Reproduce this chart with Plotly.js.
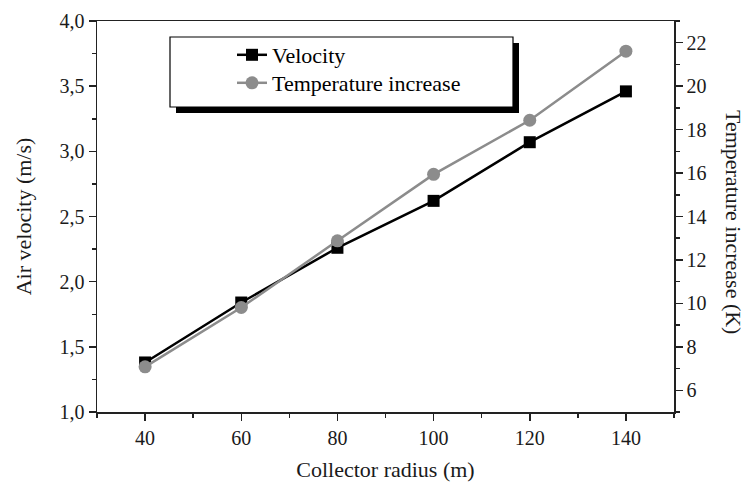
<!DOCTYPE html>
<html>
<head>
<meta charset="utf-8">
<script src="https://cdn.plot.ly/plotly-3.0.1.min.js"></script>
<style>
  html, body { margin: 0; padding: 0; background: #fff; }
  #chart { width: 746px; height: 487px; }
</style>
</head>
<body>
<div id="chart"></div>
<script>
// ---- data ----
const collectorRadius = [40, 60, 80, 100, 120, 140];
const airVelocity = [1.38, 1.84, 2.26, 2.62, 3.07, 3.46];
const temperatureIncrease = [7.08, 9.81, 12.88, 15.94, 18.43, 21.61];
const seriesNames = ['Velocity', 'Temperature increase'];
const axisTitles = { x: 'Collector radius (m)', y: 'Air velocity (m/s)', y2: 'Temperature increase (K)' };

const FONT = 'Liberation Serif, Times New Roman, serif';
const AX = '#222';
const TXT = '#1a1a1a';

const traces = [
  {
    x: collectorRadius, y: airVelocity, name: seriesNames[0],
    type: 'scatter', mode: 'lines+markers', yaxis: 'y', legend: 'legend',
    line: { color: '#000', width: 2.5 },
    marker: { symbol: 'square', size: 12, color: '#000' }
  },
  {
    x: collectorRadius, y: temperatureIncrease, name: seriesNames[1],
    type: 'scatter', mode: 'lines+markers', yaxis: 'y2', legend: 'legend2',
    line: { color: '#8c8c8c', width: 2.5 },
    marker: { symbol: 'circle', size: 13, color: '#8c8c8c' }
  }
];

// plot-area pixel geometry converted to paper coords
const L = 97, R = 674, T = 21, B = 412;
const px = v => (v - L) / (R - L);
const py = v => 1 - (v - T) / (B - T);

const legendStyle = {
  xanchor: 'left', yanchor: 'top',
  bgcolor: 'rgba(0,0,0,0)', borderwidth: 0,
  font: { family: FONT, size: 22, color: '#000' }
};

const layout = {
  width: 746, height: 487,
  margin: { l: L, r: 746 - R, t: T, b: 487 - B },
  paper_bgcolor: '#fff', plot_bgcolor: '#fff',
  separators: ',.',
  font: { family: FONT, size: 20, color: TXT },
  showlegend: true,
  legend: Object.assign({ x: px(232), y: py(34) }, legendStyle),
  legend2: Object.assign({ x: px(232), y: py(62) }, legendStyle),
  xaxis: {
    range: [30, 150], tick0: 40, dtick: 20,
    showgrid: false, zeroline: false,
    showline: true, linecolor: AX, linewidth: 1.5, mirror: true,
    ticks: 'outside', ticklen: 7, tickwidth: 1.5, tickcolor: AX,
    minor: { dtick: 10, ticks: 'outside', ticklen: 4, tickwidth: 1.5, tickcolor: AX },
    tickfont: { family: FONT, size: 20, color: TXT },
    title: { text: axisTitles.x, font: { family: FONT, size: 22, color: TXT }, standoff: 14 }
  },
  yaxis: {
    range: [1, 4], tick0: 1, dtick: 0.5, tickformat: '.1f',
    showgrid: false, zeroline: false,
    showline: true, linecolor: AX, linewidth: 1.5,
    ticks: 'outside', ticklen: 7, tickwidth: 1.5, tickcolor: AX,
    minor: { dtick: 0.25, ticks: 'outside', ticklen: 4, tickwidth: 1.5, tickcolor: AX },
    tickfont: { family: FONT, size: 20, color: TXT },
    title: { text: axisTitles.y, font: { family: FONT, size: 22, color: TXT }, standoff: 22 }
  },
  yaxis2: {
    overlaying: 'y', side: 'right',
    range: [5, 23], tick0: 6, dtick: 2,
    showgrid: false, zeroline: false,
    showline: true, linecolor: AX, linewidth: 1.5,
    ticks: 'outside', ticklen: 7, tickwidth: 1.5, tickcolor: AX,
    minor: { dtick: 1, ticks: 'outside', ticklen: 4, tickwidth: 1.5, tickcolor: AX },
    tickfont: { family: FONT, size: 20, color: TXT }
  },
  annotations: [
    {
      text: axisTitles.y2, xref: 'paper', yref: 'paper',
      x: (734 - L) / (R - L), y: py(222), xanchor: 'center', yanchor: 'middle',
      textangle: 90, showarrow: false,
      font: { family: FONT, size: 22, color: TXT }
    }
  ],
  shapes: [
    { type: 'rect', xref: 'paper', yref: 'paper', layer: 'above',
      x0: px(176), x1: px(519), y0: py(43), y1: py(113),
      fillcolor: '#000', line: { width: 0 } },
    { type: 'rect', xref: 'paper', yref: 'paper', layer: 'above',
      x0: px(170), x1: px(513), y0: py(37), y1: py(107),
      fillcolor: '#fff', line: { color: '#000', width: 1.2 } }
  ]
};

Plotly.newPlot('chart', traces, layout, { staticPlot: true, displayModeBar: false });
</script>
</body>
</html>
